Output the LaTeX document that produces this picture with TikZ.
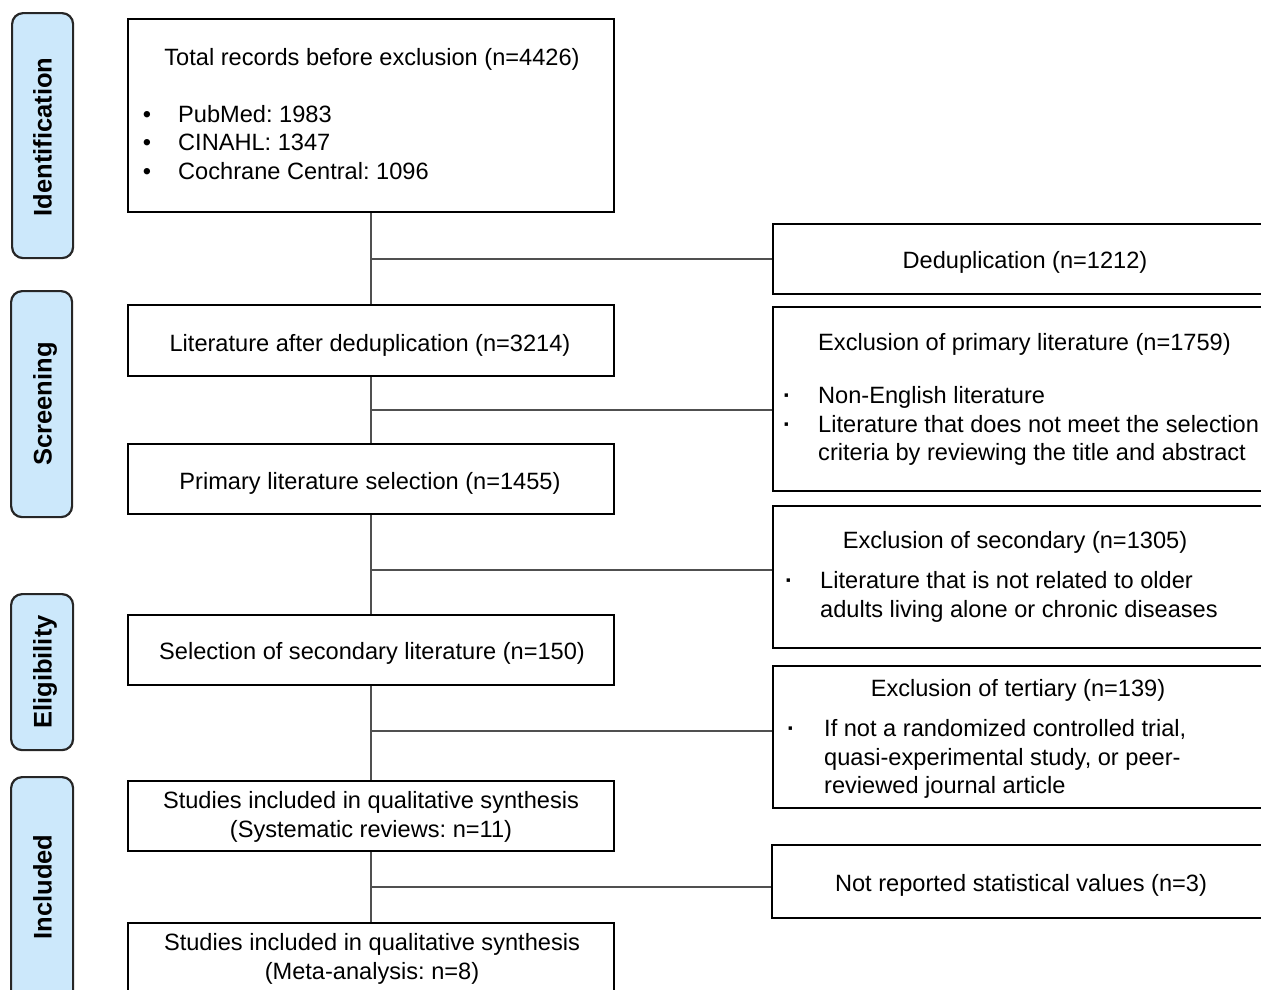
\documentclass[tikz,border=0pt]{standalone}
\usepackage{fontspec}
\setmainfont{Liberation Sans}
\definecolor{sidefill}{HTML}{CCE8FB}
\definecolor{linegray}{HTML}{505050}
\frenchspacing
\begin{document}
\begin{tikzpicture}[x=1pt,y=-1pt,
  box/.style={draw=black, line width=2.2pt, fill=white, inner sep=0pt, anchor=north west},
  side/.style={draw=black!85, line width=2.2pt, fill=sidefill, rounded corners=11pt, inner sep=0pt, anchor=north west},
  sidetx/.style={rotate=90, anchor=base, inner sep=0pt, font=\fontsize{25.5}{30}\selectfont\bfseries},
  conn/.style={draw=linegray, line width=1.5pt},
  tc/.style={inner sep=0pt, anchor=base, font=\fontsize{23.6}{28.5}\selectfont},
  tl/.style={inner sep=0pt, anchor=base west, font=\fontsize{23.6}{28.5}\selectfont},
  dot/.style={inner sep=0pt, anchor=base, font=\fontsize{23.6}{28.5}\selectfont}]
\useasboundingbox (0,0) rectangle (1261,989);

% side labels
\node[side, minimum width=61pt, minimum height=245pt] (s1) at (11,12) {};
\node[side, minimum width=61pt, minimum height=226pt] (s2) at (10,290) {};
\node[side, minimum width=62pt, minimum height=156pt] (s3) at (10,593) {};
\node[side, minimum width=62pt, minimum height=225pt] (s4) at (10,776) {};
\node[sidetx] (s1t) at (51.5,137) {Identification};
\node[sidetx] (s2t) at (51.5,404) {Screening};
\node[sidetx] (s3t) at (51.5,672) {Eligibility};
\node[sidetx] (s4t) at (51.5,887) {Included};

% left boxes
\node[box, minimum width=486pt, minimum height=193pt] (b1) at (127,18) {};
\node[box, minimum width=486pt, minimum height=71pt] (b2) at (127,304) {};
\node[box, minimum width=486pt, minimum height=70pt] (b3) at (127,443) {};
\node[box, minimum width=486pt, minimum height=70pt] (b4) at (127,614) {};
\node[box, minimum width=486pt, minimum height=70pt] (b5) at (127,780) {};
\node[box, minimum width=486pt, minimum height=90pt] (b6) at (127,922) {};

% right boxes
\node[box, minimum width=510pt, minimum height=70pt] (r1) at (772,223) {};
\node[box, minimum width=510pt, minimum height=184pt] (r2) at (772,306) {};
\node[box, minimum width=510pt, minimum height=142pt] (r3) at (772,505) {};
\node[box, minimum width=510pt, minimum height=142pt] (r4) at (772,665) {};
\node[box, minimum width=510pt, minimum height=73pt] (r5) at (771,844) {};

% connectors
\coordinate (j1) at (370,259);
\coordinate (j2) at (370,410);
\coordinate (j3) at (370,570);
\coordinate (j4) at (370,731);
\coordinate (j5) at (370,887);
\draw[conn] (b1.south) -- (b2.north);
\draw[conn] (b2.south) -- (b3.north);
\draw[conn] (b3.south) -- (b4.north);
\draw[conn] (b4.south) -- (b5.north);
\draw[conn] (b5.south) -- (b6.north);
\draw[conn] (j1) -- (j1 -| r1.west);
\draw[conn] (j2) -- (j2 -| r2.west);
\draw[conn] (j3) -- (j3 -| r3.west);
\draw[conn] (j4) -- (j4 -| r4.west);
\draw[conn] (j5) -- (j5 -| r5.west);

% left texts
\node[tc] (b1t) at (372,65.5) {Total records before exclusion (n=4426)};
\node[dot] (b1d1) at (147,122) {•};
\node[dot] (b1d2) at (147,150.5) {•};
\node[dot] (b1d3) at (147,179) {•};
\node[tl] (b1l1) at (178,122) {PubMed: 1983};
\node[tl] (b1l2) at (178,150.5) {CINAHL: 1347};
\node[tl] (b1l3) at (178,179) {Cochrane Central: 1096};
\node[tc] (b2t) at (370,351) {Literature after deduplication (n=3214)};
\node[tc] (b3t) at (370,489.5) {Primary literature selection (n=1455)};
\node[tc] (b4t) at (372,659.5) {Selection of secondary literature (n=150)};
\node[tc] (b5t1) at (371,808.5) {Studies included in qualitative synthesis};
\node[tc] (b5t2) at (371,837.5) {(Systematic reviews: n=11)};
\node[tc] (b6t1) at (372,950.5) {Studies included in qualitative synthesis};
\node[tc] (b6t2) at (372,979) {(Meta-analysis: n=8)};

% right texts
\node[tc] (r1t) at (1025,268.5) {Deduplication (n=1212)};
\node[tl] (r2t) at (818,350.5) {Exclusion of primary literature (n=1759)};
\node[dot] (r2d1) at (787,403.5) {\bfseries ·};
\node[dot] (r2d2) at (787,432.5) {\bfseries ·};
\node[tl] (r2l1) at (818,403.5) {Non-English literature};
\node[tl] (r2l2) at (818,432.5) {Literature that does not meet the selection};
\node[tl] (r2l3) at (818,460.5) {criteria by reviewing the title and abstract};
\node[tc] (r3t) at (1015,548.5) {Exclusion of secondary (n=1305)};
\node[dot] (r3d1) at (789,588.5) {\bfseries ·};
\node[tl] (r3l1) at (820,588.5) {Literature that is not related to older};
\node[tl] (r3l2) at (820,617.5) {adults living alone or chronic diseases};
\node[tc] (r4t) at (1018,696.5) {Exclusion of tertiary (n=139)};
\node[dot] (r4d1) at (791,736.5) {\bfseries ·};
\node[tl] (r4l1) at (824,736.5) {If not a randomized controlled trial,};
\node[tl] (r4l2) at (824,765.5) {quasi-experimental study, or peer-};
\node[tl] (r4l3) at (824,793.5) {reviewed journal article};
\node[tc] (r5t) at (1021,891.5) {Not reported statistical values (n=3)};
\end{tikzpicture}
\end{document}
